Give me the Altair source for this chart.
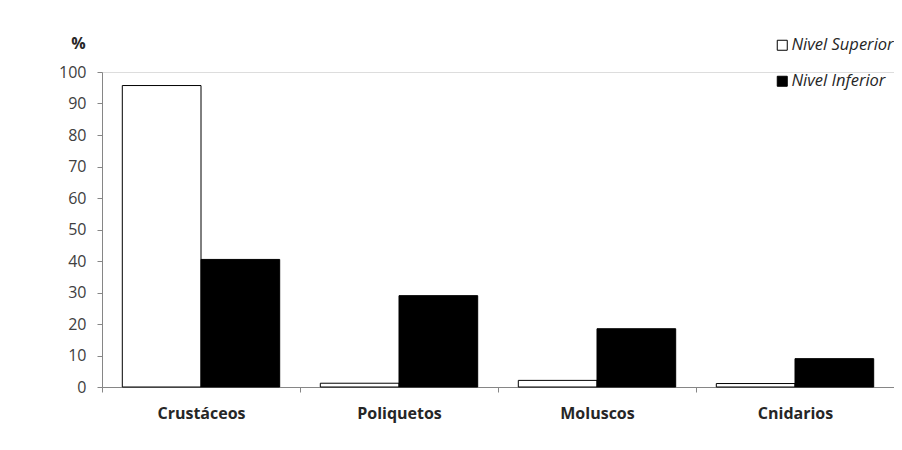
import altair as alt
import pandas as pd

categories = ["Crustáceos", "Poliquetos", "Moluscos", "Cnidarios"]
series = ["Nivel Superior", "Nivel Inferior"]
superior = [95.7, 1.2, 2.1, 1.1]
inferior = [40.5, 29.0, 18.5, 9.0]
y_ticks = [0, 10, 20, 30, 40, 50, 60, 70, 80, 90, 100]

rows = []
for c, s, i in zip(categories, superior, inferior):
    rows.append({"grupo": c, "nivel": series[0], "valor": s})
    rows.append({"grupo": c, "nivel": series[1], "valor": i})
df = pd.DataFrame(rows)

FONT = "Open Sans"
AX = "#868686"
TXT = "#404040"

chart = alt.Chart(df).mark_bar(stroke="black", strokeWidth=1).encode(
    x=alt.X("grupo:N", sort=categories,
            scale=alt.Scale(paddingInner=0, paddingOuter=0),
            axis=alt.Axis(title=None, labelAngle=0, tickBand="extent", tickSize=5,
                          domainColor=AX, tickColor=AX, labelFontWeight="bold",
                          labelFontSize=16, labelColor="#262626", labelFont=FONT,
                          labelPadding=13)),
    xOffset=alt.XOffset("nivel:N", sort=series,
                        scale=alt.Scale(paddingInner=0, paddingOuter=0.258)),
    y=alt.Y("valor:Q", scale=alt.Scale(domain=[0, 100], nice=False),
            axis=alt.Axis(values=y_ticks, grid=False, title="%", titleAngle=0,
                          titleX=-24, titleY=-29, titleAlign="center",
                          titleBaseline="middle", titleFontSize=16,
                          titleFontWeight="bold", titleColor="#262626", titleFont=FONT,
                          domainColor=AX, tickColor=AX, tickSize=5,
                          labelFontSize=16, labelColor=TXT, labelFont=FONT,
                          labelPadding=11)),
    fill=alt.Fill("nivel:N", sort=series,
                  scale=alt.Scale(domain=series, range=["white", "black"]),
                  legend=alt.Legend(title=None, orient="none", legendX=672, legendY=-35,
                                    padding=0, symbolType="square", symbolSize=100,
                                    symbolStrokeColor="black", symbolStrokeWidth=1,
                                    labelFontStyle="italic", labelFontSize=16.5,
                                    labelFont=FONT, labelColor="#262626",
                                    labelOffset=1, rowPadding=19, labelLimit=300)),
).properties(
    width=792, height=315,
    autosize=alt.AutoSizeParams(type="none"),
    padding={"left": 94, "top": 64, "right": 0, "bottom": 50},
).configure_view(stroke=None).configure(background="white")

chart.save("out.html", embed_options={"renderer": "svg", "actions": False})
